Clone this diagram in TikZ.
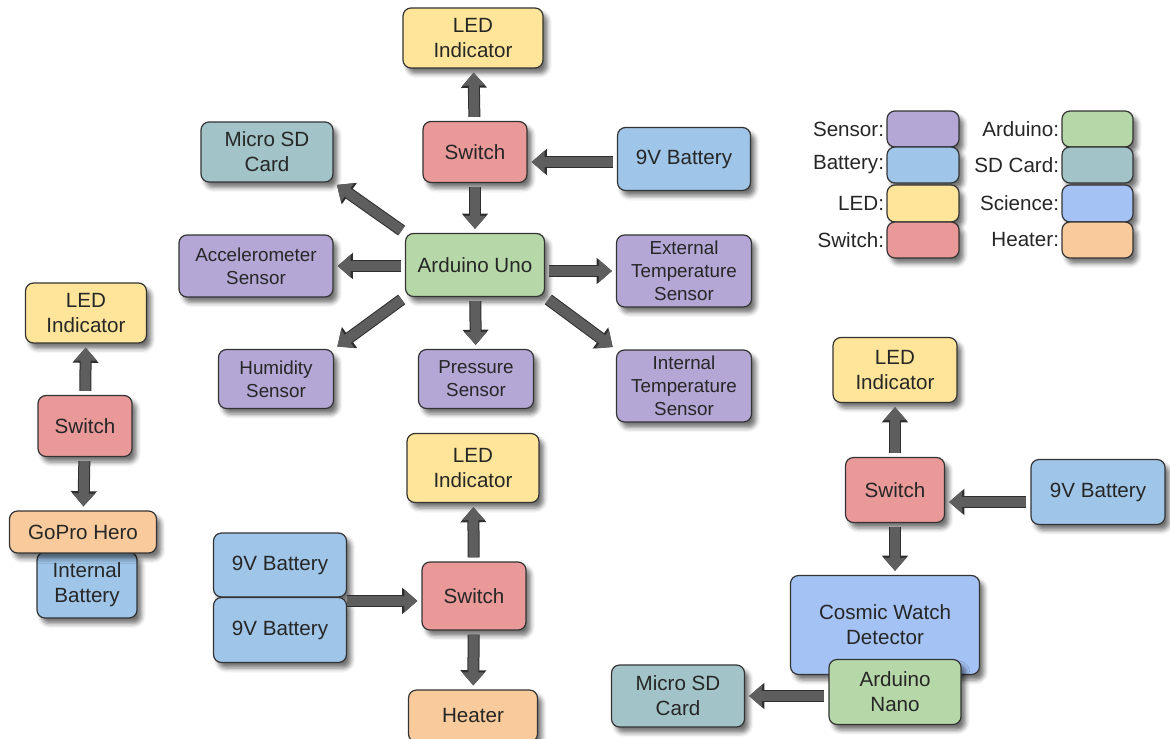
\documentclass[tikz,border=0pt]{standalone}
\usepackage{fontspec}
\setmainfont{Liberation Sans}
\usetikzlibrary{arrows.meta,calc,positioning,shadows.blur}

\definecolor{sensorc}{HTML}{B4A7D6}
\definecolor{arduinoc}{HTML}{B6D7A8}
\definecolor{batteryc}{HTML}{9FC5E8}
\definecolor{sdcardc}{HTML}{A2C4C9}
\definecolor{ledc}{HTML}{FFE599}
\definecolor{sciencec}{HTML}{A4C2F4}
\definecolor{switchc}{HTML}{EA9999}
\definecolor{heaterc}{HTML}{F9CB9C}
\definecolor{arrowgray}{HTML}{5E5E5E}
\definecolor{arrowedge}{HTML}{2E2E2E}

\begin{document}
\begin{tikzpicture}[x=0.5pt,y=-0.5pt]
\tikzset{
  blk/.style={draw=black!80, line width=0.6pt, rounded corners=4pt, align=center,
    text=black!85, font=\fontsize{10.3}{12.5}\selectfont, inner sep=2pt,
    blur shadow={shadow xshift=2.2pt, shadow yshift=-2.8pt, shadow blur radius=2.2pt, shadow opacity=55}},
  sensor/.style={blk, fill=sensorc, font=\fontsize{9.4}{11.6}\selectfont},
  arduino/.style={blk, fill=arduinoc},
  battery/.style={blk, fill=batteryc},
  sdcard/.style={blk, fill=sdcardc},
  led/.style={blk, fill=ledc},
  science/.style={blk, fill=sciencec},
  switchbox/.style={blk, fill=switchc},
  heater/.style={blk, fill=heaterc},
  legtext/.style={anchor=east, text=black!85, font=\fontsize{10.3}{12.5}\selectfont, inner sep=1pt},
  flow/.style={-{Triangle[length=6.5pt,width=11pt]}, line width=5pt, draw=arrowgray,
    shorten <=2pt, shorten >=2pt,
    preaction={draw=arrowedge, line width=6pt, -{Triangle[length=7.6pt,width=12.6pt]}}},
}
\useasboundingbox (0,0) rectangle (1170,738);

% main Arduino cluster
\node[led, minimum width=70pt, minimum height=30pt] (led1) at (473,38) {LED\\Indicator};
\node[switchbox, minimum width=52pt, minimum height=30.5pt] (sw1) at (475,152) {Switch};
\node[battery, minimum width=66.5pt, minimum height=31.5pt] (bat1) at (684,159) {9V Battery};
\node[arduino, minimum width=69.5pt, minimum height=31.5pt] (ard) at (475,265) {Arduino Uno};
\node[sdcard, minimum width=66pt, minimum height=30pt] (sd1) at (267,152) {Micro SD\\Card};
\node[sensor, minimum width=77pt, minimum height=31pt] (acc) at (256,266) {Accelerometer\\Sensor};
\node[sensor, minimum width=67.5pt, minimum height=36pt] (ext) at (684,271) {External\\Temperature\\Sensor};
\node[sensor, minimum width=57.5pt, minimum height=29.5pt] (hum) at (276,379) {Humidity\\Sensor};
\node[sensor, minimum width=57.5pt, minimum height=29.5pt] (pres) at (476,379) {Pressure\\Sensor};
\node[sensor, minimum width=67.5pt, minimum height=36pt] (int) at (684,386) {Internal\\Temperature\\Sensor};

\draw[flow] (sw1) -- (led1);
\draw[flow] ([yshift=-1.5pt]bat1.west) -- ([yshift=-1.5pt]bat1.west -| sw1.east);
\draw[flow] (sw1) -- (ard);
\draw[flow] (ard.north west) -- (sd1.south east);
\draw[flow] (ard.west |- acc.east) -- (acc.east);
\draw[flow] (ard.east |- ext.west) -- (ext.west);
\draw[flow] (ard.south west) -- (hum.north east);
\draw[flow] (ard) -- (pres);
\draw[flow] (ard.south east) -- (int.north west);

% camera
\node[led, minimum width=60.5pt, minimum height=30pt] (led2) at (86,313) {LED\\Indicator};
\node[switchbox, minimum width=47pt, minimum height=30.5pt] (sw2) at (85,426) {Switch};
\node[battery, minimum width=50pt, minimum height=33pt] (intbat) at (87,585) {Internal\\Battery};
\node[heater, minimum width=73.5pt, minimum height=21pt] (gopro) at (83,532) {GoPro Hero};

\draw[flow] (sw2) -- (led2);
\draw[flow] (sw2) -- (gopro);

% heater
\node[led, minimum width=66pt, minimum height=34.5pt] (led3) at (473,468) {LED\\Indicator};
\node[switchbox, minimum width=52pt, minimum height=34pt] (sw3) at (474,596) {Switch};
\node[heater, minimum width=64.5pt, minimum height=26pt] (heat) at (473,716) {Heater};
\node[battery, minimum width=66.5pt, minimum height=32pt] (bat2a) at (280,565) {9V Battery};
\node[battery, minimum width=66.5pt, minimum height=32.5pt] (bat2b) at (280,630) {9V Battery};

\draw[flow] (sw3) -- (led3);
\draw[flow] (sw3) -- (heat);
\draw[flow, shorten <=0pt] ([yshift=-2pt]bat2b.north east) -- ([yshift=-2pt]bat2b.north east -| sw3.west);

% cosmic watch
\node[led, minimum width=62pt, minimum height=32.5pt] (led4) at (895,370) {LED\\Indicator};
\node[switchbox, minimum width=49.5pt, minimum height=32.5pt] (sw4) at (895,490) {Switch};
\node[battery, minimum width=67pt, minimum height=32.5pt] (bat4) at (1098,492) {9V Battery};
\node[science, minimum width=94.5pt, minimum height=49.5pt] (det) at (885,625) {Cosmic Watch\\Detector};
\node[arduino, minimum width=66pt, minimum height=32.5pt] (nano) at (895,692) {Arduino\\Nano};
\node[sdcard, minimum width=66.5pt, minimum height=31pt] (sd2) at (678,696) {Micro SD\\Card};

\draw[flow] (sw4) -- (led4);
\draw[flow] ([yshift=-5pt]bat4.west) -- ([yshift=-5pt]bat4.west -| sw4.east);
\draw[flow] (sw4.south) -- (sw4.south |- det.north);
\draw[flow] (nano.west |- sd2.east) -- (sd2.east);

% legend
\node[sensor, minimum width=36pt, minimum height=18pt] (ksensor) at (923,129) {};
\node[battery, minimum width=36pt, minimum height=18pt] (kbattery) at (923,165) {};
\node[led, minimum width=36pt, minimum height=18.5pt] (kled) at (923,203.5) {};
\node[switchbox, minimum width=36pt, minimum height=18pt] (kswitch) at (923,240) {};
\node[arduino, minimum width=35.5pt, minimum height=18pt] (karduino) at (1097.5,129) {};
\node[sdcard, minimum width=35.5pt, minimum height=18pt] (ksdcard) at (1097.5,165) {};
\node[science, minimum width=35.5pt, minimum height=18.5pt] (kscience) at (1097.5,203.5) {};
\node[heater, minimum width=35.5pt, minimum height=18pt] (kheater) at (1097.5,240) {};

\node[legtext] at (ksensor.west) {Sensor:};
\node[legtext] at (kbattery.west) {Battery:};
\node[legtext] at (kled.west) {LED:};
\node[legtext] at (kswitch.west) {Switch:};
\node[legtext] at (karduino.west) {Arduino:};
\node[legtext] at (ksdcard.west) {SD Card:};
\node[legtext] at (kscience.west) {Science:};
\node[legtext] at (kheater.west) {Heater:};
\end{tikzpicture}
\end{document}
